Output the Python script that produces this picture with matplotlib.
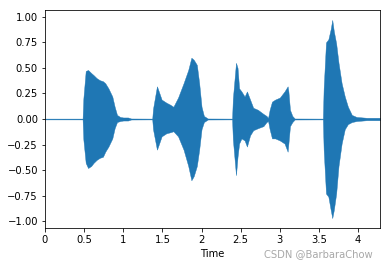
import numpy as np
import matplotlib.pyplot as plt

# envelope of the waveform (time in s, amplitude)
t_env = [0.00, 0.48, 0.49, 0.52, 0.55, 0.59, 0.62, 0.66, 0.70, 0.74, 0.77, 0.81,
         0.86, 0.89, 0.92, 0.96, 1.00, 1.06, 1.10, 1.37,
         1.38, 1.43, 1.44, 1.49, 1.55, 1.60, 1.64, 1.70, 1.77, 1.83, 1.87, 1.90,
         1.94, 1.97, 2.00, 2.03, 2.08, 2.39,
         2.40, 2.44, 2.46, 2.48, 2.51, 2.55, 2.58, 2.62, 2.66, 2.72, 2.79, 2.83,
         2.85, 2.87, 2.90, 2.94, 3.00, 3.06, 3.10, 3.11, 3.13, 3.16, 3.19, 3.55,
         3.56, 3.59, 3.62, 3.65, 3.67, 3.69, 3.72, 3.75, 3.79, 3.83, 3.87, 3.92,
         3.98, 4.11, 4.28]
upper = [0.004, 0.004, 0.20, 0.47, 0.48, 0.45, 0.43, 0.40, 0.38, 0.37, 0.35, 0.30,
         0.22, 0.12, 0.04, 0.02, 0.015, 0.015, 0.005, 0.004,
         0.10, 0.32, 0.30, 0.19, 0.16, 0.14, 0.12, 0.21, 0.35, 0.48, 0.60, 0.58,
         0.53, 0.35, 0.12, 0.03, 0.005, 0.004,
         0.20, 0.55, 0.50, 0.30, 0.27, 0.22, 0.27, 0.19, 0.11, 0.09, 0.05, 0.03,
         0.01, 0.09, 0.17, 0.19, 0.21, 0.27, 0.32, 0.27, 0.09, 0.03, 0.005, 0.004,
         0.30, 0.75, 0.78, 0.88, 0.97, 0.86, 0.74, 0.55, 0.35, 0.22, 0.12, 0.04,
         0.02, 0.012, 0.012]
lower = [-0.004, -0.004, -0.20, -0.43, -0.48, -0.46, -0.43, -0.40, -0.38, -0.37, -0.32, -0.27,
         -0.19, -0.09, -0.03, -0.02, -0.015, -0.015, -0.005, -0.004,
         -0.10, -0.30, -0.28, -0.17, -0.14, -0.13, -0.12, -0.17, -0.30, -0.46, -0.60, -0.56,
         -0.46, -0.30, -0.10, -0.03, -0.005, -0.004,
         -0.20, -0.55, -0.37, -0.24, -0.19, -0.21, -0.27, -0.16, -0.11, -0.09, -0.07, -0.03,
         -0.02, -0.10, -0.19, -0.19, -0.21, -0.24, -0.32, -0.24, -0.07, -0.03, -0.005, -0.004,
         -0.30, -0.73, -0.76, -0.89, -0.97, -0.89, -0.73, -0.46, -0.24, -0.10, -0.05, -0.03,
         -0.02, -0.012, -0.012]

x_ticks = [0, 0.5, 1, 1.5, 2, 2.5, 3, 3.5, 4]
x_labels = ["0", "0.5", "1", "1.5", "2", "2.5", "3", "3.5", "4"]
y_ticks = np.arange(-1.0, 1.01, 0.25)

fig = plt.figure(figsize=(390 / 72, 266 / 72), dpi=72)
ax = fig.add_axes([45 / 390, 38 / 266, 335 / 390, 218 / 266])

ax.fill_between(t_env, lower, upper, color="#1f77b4", linewidth=0.4, edgecolor="#1f77b4")

ax.set_xlim(0, 4.28)
ax.set_ylim(-1.067, 1.067)
ax.set_xticks(x_ticks)
ax.set_xticklabels(x_labels)
ax.set_yticks(y_ticks)
ax.set_yticklabels([f"{v:.2f}".replace("-", "\u2212") for v in y_ticks])
ax.set_xlabel("Time")

fig.text(373 / 390, 0.025, "CSDN @BarbaraChow", color="#a8a8a8", fontsize=10,
         ha="right", va="bottom")

plt.savefig("out.png", dpi=72)
plt.close()
